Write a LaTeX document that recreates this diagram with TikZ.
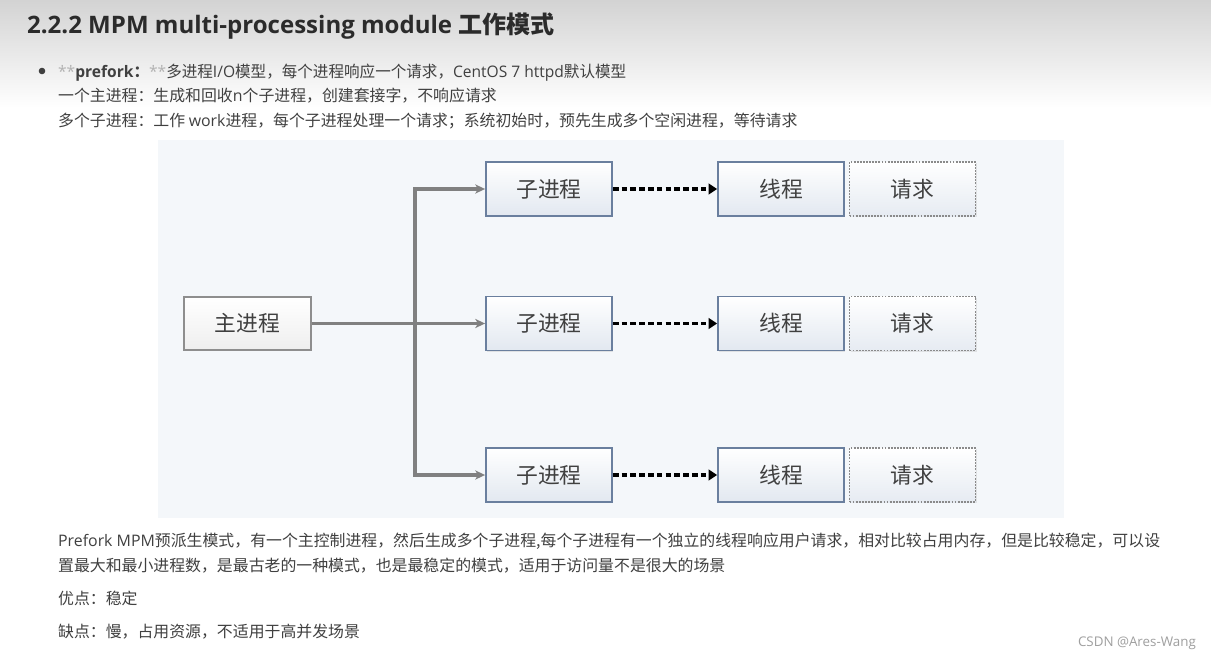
\documentclass[tikz,border=0pt]{standalone}
\usepackage{fontspec}
\setmainfont{Open Sans}
\newfontfamily\zhf{Noto Sans CJK SC}
\newcommand{\zh}[1]{{\zhf #1}}
\usetikzlibrary{arrows.meta,shadows}
\definecolor{txt}{HTML}{404040}
\definecolor{head}{HTML}{2B2B2B}
\definecolor{diagbg}{HTML}{F4F7FA}
\definecolor{conngray}{HTML}{808080}
\definecolor{bluebd}{HTML}{6A7F9E}
\definecolor{graybd}{HTML}{8E8E8E}
\definecolor{reqbd}{HTML}{8A8A8A}
\tikzset{
  body/.style={anchor=base west,inner sep=0pt,text=txt,font=\fontsize{22.6}{27}\selectfont},
  shd/.style={drop shadow={opacity=0.18,shadow xshift=1.5pt,shadow yshift=-1.5pt}},
  mainbox/.style={shd,draw=graybd,line width=2.6pt,minimum width=6.35cm,minimum height=2.65cm,top color=white,bottom color=gray!13,text=txt,font=\zhf\fontsize{31}{36}\selectfont},
  subbox/.style={shd,draw=bluebd,line width=2.6pt,minimum width=6.3cm,minimum height=2.7cm,top color=white,bottom color={rgb,255:red,226;green,232;blue,240},text=txt,font=\zhf\fontsize{31}{36}\selectfont},
  reqbox/.style={shd,draw=reqbd,line width=2.2pt,dash pattern=on 2.6pt off 1.8pt,minimum width=6.3cm,minimum height=2.7cm,top color=white,bottom color={rgb,255:red,230;green,235;blue,242},text=txt,font=\zhf\fontsize{31}{36}\selectfont},
  conn/.style={draw=conngray,line width=4.4pt,-{Stealth[length=14pt,width=13pt,inset=4pt]}},
  dconn/.style={draw=black,line width=4.4pt,dash pattern=on 8pt off 4.5pt,-{Triangle[length=12pt,width=15pt]}},
}
\begin{document}
\begin{tikzpicture}[x=0.05cm,y=-0.05cm]
\useasboundingbox (0,0) rectangle (1211,657);
\fill[white] (0,0) rectangle (1211,657);
\shade[top color={rgb,255:red,211;green,211;blue,211},bottom color=white] (0,0) rectangle (1211,108);
% heading
\node[anchor=base west,inner sep=0pt,text=head,font=\bfseries\fontsize{34.2}{40}\selectfont] (h) at (27,34) {2.2.2 MPM multi-processing module \zh{工作模式}};
% bullet list
\fill[txt] (42,71) circle (3.3);
\node[body] (l1) at (58,77) {\scalebox{0.98}[1]{\textcolor{gray!60}{**}\textbf{prefork\zh{：}}\textcolor{gray!60}{**}\zh{多进程}I/O\zh{模型，每个进程响应一个请求，}CentOS 7 httpd\zh{默认模型}}};
\node[body] (l2) at (58,101) {\zh{一个主进程：生成和回收}n\zh{个子进程，创建套接字，不响应请求}};
\node[body] (l3) at (58,126) {\zh{多个子进程：工作 }work\zh{进程，每个子进程处理一个请求；系统初始时，预先生成多个空闲进程，等待请求}};
% diagram
\fill[diagbg] (158,140) rectangle (1064,518);
\node[mainbox] (m) at (247.5,323.5) {主进程};
\node[subbox] (c1) at (549,189) {子进程};
\node[subbox] (c2) at (549,323.5) {子进程};
\node[subbox] (c3) at (549,475) {子进程};
\node[subbox] (t1) at (781,189) {线程};
\node[subbox] (t2) at (781,323.5) {线程};
\node[subbox] (t3) at (781,475) {线程};
\node[reqbox] (r1) at (912.5,189) {请求};
\node[reqbox] (r2) at (912.5,323.5) {请求};
\node[reqbox] (r3) at (912.5,475) {请求};
\coordinate (j) at (415,323.5);
\draw[conn] (j) |- (c1.west);
\draw[conn] (j) |- (c3.west);
\draw[conn] (m.east) -- (c2.west);
\draw[dconn] (c1.east) -- (t1.west);
\draw[dconn] (c2.east) -- (t2.west);
\draw[dconn] (c3.east) -- (t3.west);
% bottom text
\node[body] (p1) at (58,546) {Prefork MPM\zh{预派生模式，有一个主控制进程，然后生成多个子进程}\zh{,每个子进程有一个独立的线程响应用户请求，相对比较占用内存，但是比较稳定，可以设}};
\node[body] (p2) at (58,571) {\zh{置最大和最小进程数，是最古老的一种模式，也是最稳定的模式，适用于访问量不是很大的场景}};
\node[body] (p3) at (58,604) {\zh{优点：稳定}};
\node[body] (p4) at (58,637) {\zh{缺点：慢，占用资源，不适用于高并发场景}};
\node[anchor=base east,inner sep=0pt,text=gray!75,font=\fontsize{19}{22}\selectfont] (w) at (1196,646) {CSDN @Ares-Wang};
\end{tikzpicture}
\end{document}
